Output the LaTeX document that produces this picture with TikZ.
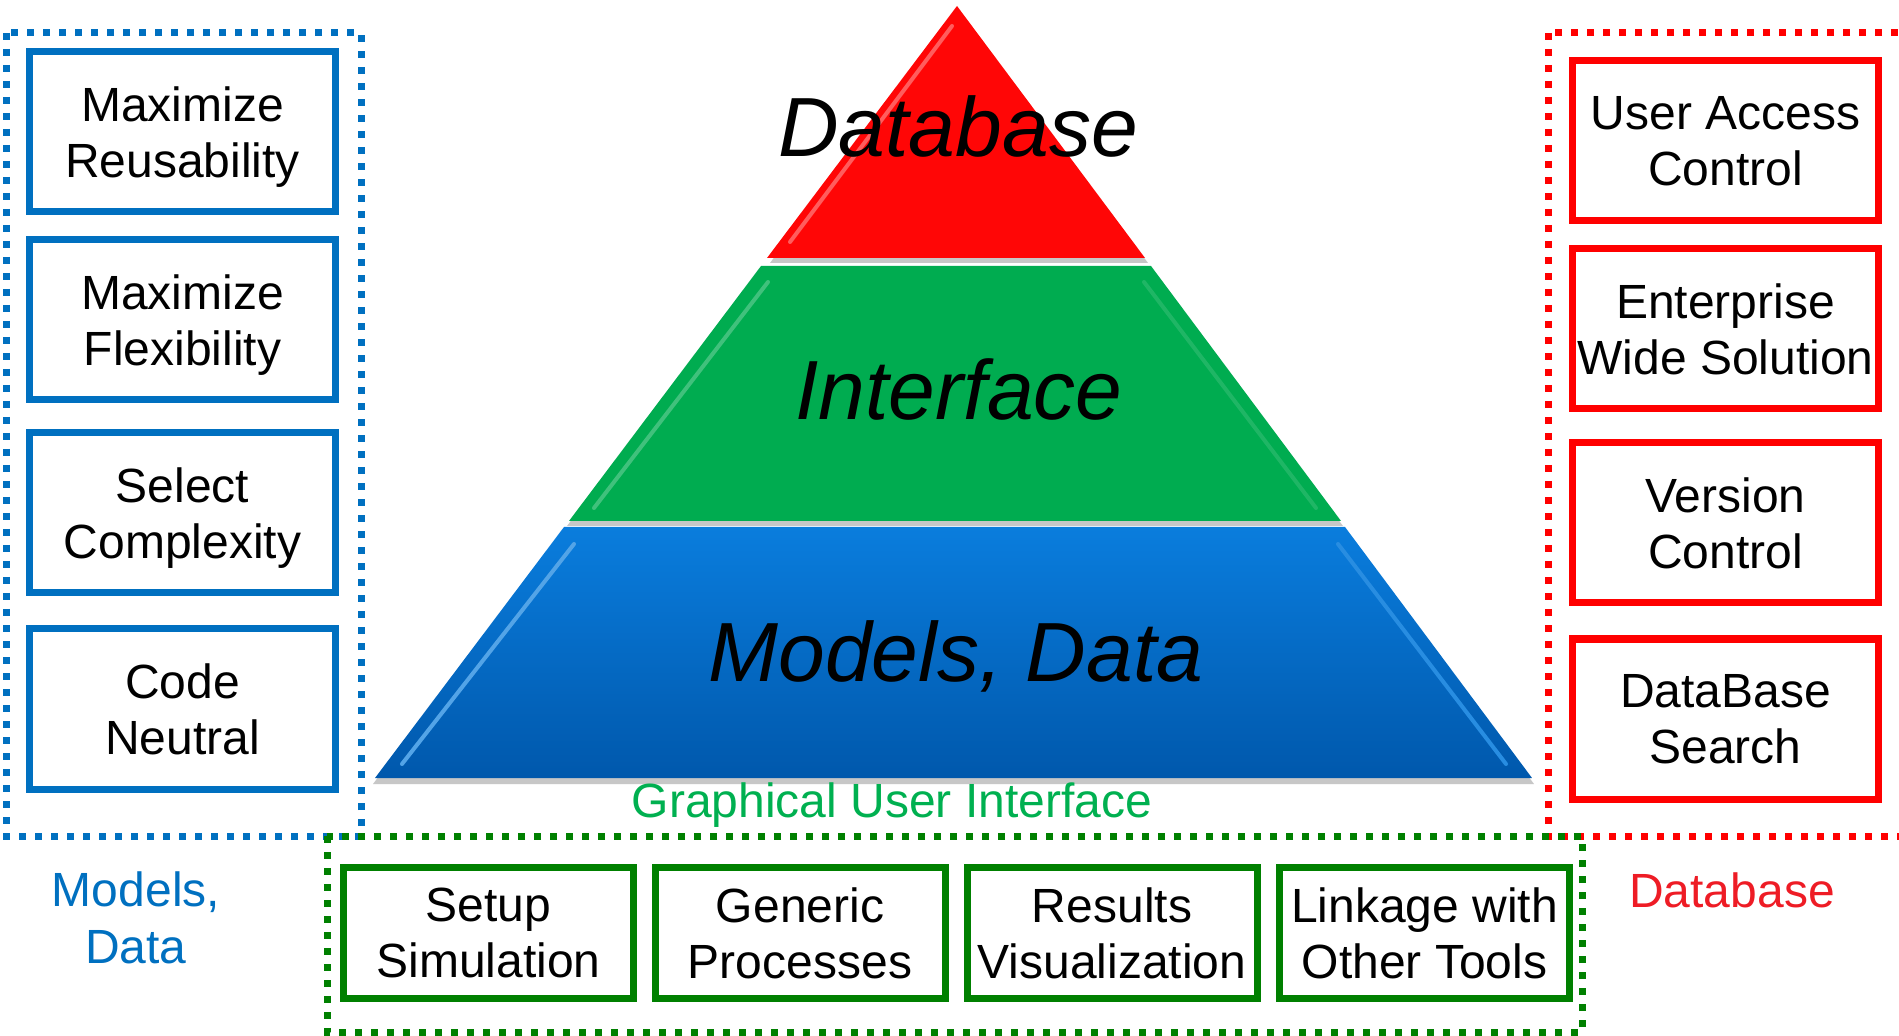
\documentclass[tikz,border=0pt]{standalone}
\usepackage{fontspec}
\setmainfont{Liberation Sans}

\definecolor{mblue}{HTML}{0070C0}
\definecolor{mred}{HTML}{FF0000}
\definecolor{mgreen}{HTML}{008000}
\definecolor{guigreen}{HTML}{00B050}
\definecolor{dbred}{HTML}{EE1C25}
\definecolor{pyrred}{HTML}{FF0606}
\definecolor{pyrgreen}{HTML}{00AC50}
\definecolor{pyrblueA}{HTML}{0A7DDD}
\definecolor{pyrblueB}{HTML}{0058AC}

\tikzset{
  featbox/.style={draw=#1, line width=3.5pt, inner sep=0pt, align=center,
    font=\fontsize{24}{28}\selectfont, text depth=0pt},
  sidebox/.style={featbox=#1, minimum width=153pt, minimum height=80pt},
  guibox/.style={featbox=mgreen, minimum width=145pt, minimum height=65.5pt},
  groupframe/.style={draw=#1, line width=3.5pt, dash pattern=on 3.5pt off 4.5pt},
  layertext/.style={font=\fontsize{42}{48}\selectfont\itshape, anchor=base, inner sep=0pt},
  grouplabel/.style={text=#1, align=center, font=\fontsize{24}{28.5}\selectfont, inner sep=0pt},
  layershadow/.style={fill=black!22},
  bevel/.style={line width=2pt, line cap=round},
}

\begin{document}
\begin{tikzpicture}[x=0.5pt,y=-0.5pt]
  \clip (0,0) rectangle (1899,1036);
  \fill[white] (0,0) rectangle (1899,1036);

  % ---- pyramid: three layers with a soft shadow under each ----
  \fill[layershadow] (959,10) -- (770,263) -- (1148,263) -- cycle;
  \fill[layershadow] (761,270) -- (1151,270) -- (1343,526) -- (567,526) -- cycle;
  \fill[layershadow] (564,531) -- (1345,531) -- (1534,784) -- (373,784) -- cycle;

  \fill[pyrred] (957,6) -- (767,258) -- (1145,258) -- cycle;
  \fill[pyrgreen] (761,266) -- (1151,266) -- (1341,521) -- (569,521) -- cycle;
  \shade[top color=pyrblueA, bottom color=pyrblueB]
    (564,527) -- (1345,527) -- (1532,778) -- (375,778) -- cycle;

  % bevel highlights along the slanted edges
  \draw[bevel, white!35!pyrred] (952,26) -- (790,242);
  \draw[bevel, white!25!pyrgreen] (768,282) -- (594,508);
  \draw[bevel, white!30!pyrblueA] (574,544) -- (402,764);
  \draw[bevel, white!12!pyrgreen] (1144,282) -- (1316,508);
  \draw[bevel, white!12!pyrblueA] (1338,544) -- (1506,764);

  \node[layertext] (tDatabase)  at (958,157) {Database};
  \node[layertext] (tInterface) at (959,420) {Interface};
  \node[layertext] (tModels)    at (956,681) {Models, Data};

  % ---- group frames ----
  \draw[groupframe=mblue] (6,33) rectangle (361,836);
  \draw[groupframe=mred] (1548,33) rectangle (1920,836);
  \draw[groupframe=mgreen] (327,836) rectangle (1582,1032);

  % ---- models / data column ----
  \node[sidebox=mblue] (reuse)   at (182.5,132) {Maximize\\Reusability};
  \node[sidebox=mblue] (flex)    at (182.5,320) {Maximize\\Flexibility};
  \node[sidebox=mblue] (complex) at (182.5,513) {Select\\Complexity};
  \node[sidebox=mblue] (neutral) at (182.5,709) {Code\\Neutral};

  % ---- database column ----
  \node[sidebox=mred] (access)  at (1725.5,141) {User Access\\Control};
  \node[sidebox=mred] (enterp)  at (1725.5,329) {Enterprise\\Wide Solution};
  \node[sidebox=mred] (version) at (1725.5,523) {Version\\Control};
  \node[sidebox=mred] (search)  at (1725.5,719) {DataBase\\Search};

  % ---- graphical user interface row ----
  \node[guibox] (setup)   at (488.5,933)  {Setup\\Simulation};
  \node[guibox] (generic) at (800,933)    {Generic\\Processes};
  \node[guibox] (results) at (1112,933)   {Results\\Visualization};
  \node[guibox] (linkage) at (1424.5,933) {Linkage with\\Other Tools};

  % ---- group labels ----
  \node[grouplabel=mblue] (lModels) at (136,918) {Models,\\Data};
  \node[grouplabel=dbred] (lDatabase) at (1732,890) {Database};
  \node[grouplabel=guigreen] (lGui) at (892,805) {Graphical User Interface};
\end{tikzpicture}
\end{document}
